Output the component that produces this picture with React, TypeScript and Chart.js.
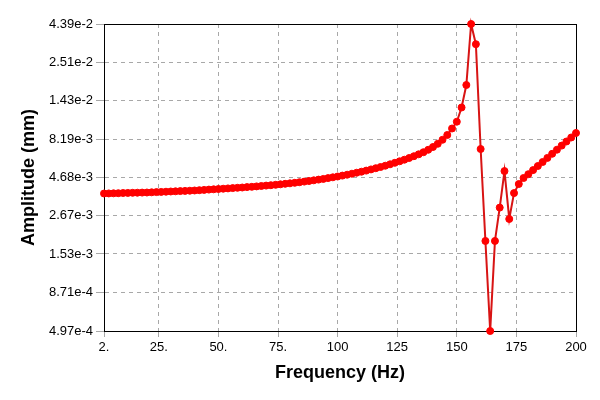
import React, { useEffect, useRef } from "react";
import { Chart, registerables } from "chart.js";

Chart.register(...registerables);

const frequencies: number[] = [
  2, 4, 6, 8, 10, 12, 14, 16, 18, 20,
  22, 24, 26, 28, 30, 32, 34, 36, 38, 40,
  42, 44, 46, 48, 50, 52, 54, 56, 58, 60,
  62, 64, 66, 68, 70, 72, 74, 76, 78, 80,
  82, 84, 86, 88, 90, 92, 94, 96, 98, 100,
  102, 104, 106, 108, 110, 112, 114, 116, 118, 120,
  122, 124, 126, 128, 130, 132, 134, 136, 138, 140,
  142, 144, 146, 148, 150, 152, 154, 156, 158, 160,
  162, 164, 166, 168, 170, 172, 174, 176, 178, 180,
  182, 184, 186, 188, 190, 192, 194, 196, 198, 200,
];

const amplitudes: number[] = [
  3.698e-3, 3.703e-3, 3.709e-3, 3.714e-3, 3.725e-3, 3.730e-3, 3.736e-3, 3.741e-3, 3.747e-3, 3.752e-3,
  3.763e-3, 3.774e-3, 3.785e-3, 3.796e-3, 3.808e-3, 3.819e-3, 3.830e-3, 3.841e-3, 3.852e-3, 3.864e-3,
  3.881e-3, 3.898e-3, 3.915e-3, 3.932e-3, 3.949e-3, 3.966e-3, 3.984e-3, 4.001e-3, 4.019e-3, 4.036e-3,
  4.060e-3, 4.078e-3, 4.102e-3, 4.126e-3, 4.150e-3, 4.174e-3, 4.199e-3, 4.229e-3, 4.260e-3, 4.291e-3,
  4.323e-3, 4.361e-3, 4.399e-3, 4.438e-3, 4.483e-3, 4.529e-3, 4.576e-3, 4.630e-3, 4.684e-3, 4.739e-3,
  4.802e-3, 4.865e-3, 4.937e-3, 5.009e-3, 5.083e-3, 5.165e-3, 5.256e-3, 5.349e-3, 5.444e-3, 5.548e-3,
  5.663e-3, 5.788e-3, 5.916e-3, 6.056e-3, 6.208e-3, 6.374e-3, 6.553e-3, 6.757e-3, 6.998e-3, 7.290e-3,
  7.638e-3, 8.099e-3, 8.688e-3, 9.551e-3, 1.0545e-2, 1.2977e-2, 1.802e-2, 4.39e-2, 3.27e-2, 7.08e-3,
  1.85e-3, 4.97e-4, 1.85e-3, 3.01e-3, 5.13e-3, 2.55e-3, 3.72e-3, 4.248e-3, 4.636e-3, 4.901e-3,
  5.203e-3, 5.524e-3, 5.856e-3, 6.217e-3, 6.601e-3, 7.008e-3, 7.440e-3, 7.900e-3, 8.376e-3, 8.946e-3,
];

const xTickValues: number[] = [2, 25, 50, 75, 100, 125, 150, 175, 200];
const xTickLabels: string[] = ["2.", "25.", "50.", "75.", "100", "125", "150", "175", "200"];

const yTickValues: number[] = [4.97e-4, 8.71e-4, 1.53e-3, 2.67e-3, 4.68e-3, 8.19e-3, 1.43e-2, 2.51e-2, 4.39e-2];
const yTickLabels: string[] = ["4.97e-4", "8.71e-4", "1.53e-3", "2.67e-3", "4.68e-3", "8.19e-3", "1.43e-2", "2.51e-2", "4.39e-2"];

const xTitle = "Frequency (Hz)";
const yTitle = "Amplitude (mm)";

const FONT = "'Liberation Sans', Arial, sans-serif";

const boxPlugin = {
  id: "plotBox",
  beforeDatasetsDraw(chart: any) {
    const { ctx, chartArea } = chart;
    ctx.save();
    ctx.strokeStyle = "#000000";
    ctx.lineWidth = 1;
    ctx.strokeRect(
      Math.round(chartArea.left) + 0.5,
      Math.round(chartArea.top) + 0.5,
      Math.round(chartArea.right - chartArea.left),
      Math.round(chartArea.bottom - chartArea.top)
    );
    ctx.restore();
  },
};

export default function App() {
  const canvasRef = useRef<HTMLCanvasElement | null>(null);

  useEffect(() => {
    if (!canvasRef.current) return;
    const data = frequencies.map((f, i) => ({ x: f, y: amplitudes[i] }));
    const chart = new Chart(canvasRef.current, {
      type: "line",
      data: {
        datasets: [
          {
            data,
            borderColor: "#d81414",
            borderWidth: 2,
            backgroundColor: "#ff0000",
            pointBackgroundColor: "#ff0000",
            pointBorderColor: "#ff0000",
            pointRadius: 3.5,
            pointBorderWidth: 1,
            tension: 0,
            clip: false as any,
          },
        ],
      },
      options: {
        animation: false,
        responsive: true,
        maintainAspectRatio: false,
        layout: { padding: { top: 24, right: 24, left: 0, bottom: 0 } },
        plugins: {
          legend: { display: false },
          tooltip: { enabled: false },
        },
        scales: {
          x: {
            type: "linear",
            min: 2,
            max: 200,
            afterBuildTicks: (scale: any) => {
              scale.ticks = xTickValues.map((v) => ({ value: v }));
            },
            afterFit: (scale: any) => {
              scale.height = 69;
            },
            ticks: {
              autoSkip: false,
              maxRotation: 0,
              padding: 3,
              color: "#000000",
              font: { family: FONT, size: 13 },
              callback: (_v: any, i: number) => xTickLabels[i],
            },
            grid: {
              color: "#a8a8a8",
              tickColor: "#a8a8a8",
              tickLength: 6,
              drawTicks: true,
              lineWidth: 1,
            },
            border: { display: true, color: "#000000", width: 1, dash: [4, 4] },
            title: {
              display: true,
              text: xTitle,
              color: "#000000",
              font: { family: FONT, size: 18, weight: "bold" },
              padding: { top: 0, bottom: 16 },
            },
          },
          y: {
            type: "logarithmic",
            min: 4.97e-4,
            max: 4.39e-2,
            afterBuildTicks: (scale: any) => {
              scale.ticks = yTickValues.map((v) => ({ value: v }));
            },
            afterFit: (scale: any) => {
              scale.width = 104;
            },
            ticks: {
              autoSkip: false,
              padding: 3,
              color: "#000000",
              font: { family: FONT, size: 13 },
              callback: (_v: any, i: number) => yTickLabels[i],
            },
            grid: {
              color: "#a8a8a8",
              tickColor: "#a8a8a8",
              tickLength: 8,
              drawTicks: true,
              lineWidth: 1,
            },
            border: { display: true, color: "#000000", width: 1, dash: [4, 4] },
            title: {
              display: true,
              text: yTitle,
              color: "#000000",
              font: { family: FONT, size: 18, weight: "bold" },
              padding: { top: 18, bottom: 0 },
            },
          },
        },
      },
      plugins: [boxPlugin],
    } as any);
    return () => chart.destroy();
  }, []);

  return (
    <div style={{ position: "fixed", left: 0, top: 0, width: 600, height: 400, background: "#ffffff" }}>
      <canvas ref={canvasRef} />
    </div>
  );
}
